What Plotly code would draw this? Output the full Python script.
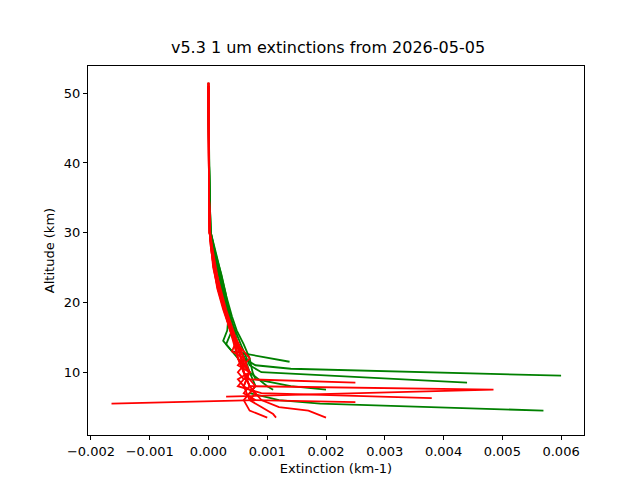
import plotly.graph_objects as go

# altitude (km) / extinction (km-1) profiles
green_alts = [
    [51.5, 45, 40, 35, 30, 27, 24, 21, 18, 16, 14, 12, 11, 10.5, 9.5],
    [51.0, 45, 40, 35, 30, 27, 24, 21, 18, 16, 14, 12, 11, 10, 8.5],
    [50.0, 45, 40, 35, 30, 27, 24, 21, 18, 16, 14, 12, 10, 8, 7, 6, 5.5, 4.5],
    [48.0, 40, 34.5, 30, 27, 24, 21, 18, 16, 14.5, 13, 11.5],
    [51.0, 45, 40, 35, 30, 27, 24, 21, 18, 16, 14, 12, 10, 9, 8, 7.5],
    [49.0, 40, 35, 30, 27, 24, 21, 18, 16, 14, 12, 10, 8, 7.5],
]
green_exts = [
    [0.0, 0.0, 0.00001, 0.00002, 0.00003, 0.00009, 0.00017, 0.00025, 0.00033, 0.00042, 0.0005, 0.0006, 0.0008, 0.0014, 0.0060],
    [0.0, 0.0, 0.00001, 0.00002, 0.00003, 0.0001, 0.00018, 0.00027, 0.00036, 0.00045, 0.00055, 0.00065, 0.0007, 0.0009, 0.0044],
    [0.0, 0.0, 0.00001, 0.00002, 0.00004, 0.00011, 0.0002, 0.00029, 0.00037, 0.00044, 0.0005, 0.00062, 0.0007, 0.0008, 0.0007, 0.0012, 0.0019, 0.0057],
    [0.0, 0.00001, 0.00002, 0.00004, 0.00012, 0.00022, 0.0003, 0.00034, 0.00032, 0.00025, 0.0004, 0.00138],
    [0.0, 0.0, 0.00001, 0.00002, 0.00004, 0.00013, 0.00021, 0.0003, 0.0004, 0.00048, 0.0006, 0.0007, 0.00075, 0.0008, 0.0014, 0.0020],
    [0.0, 0.00001, 0.00002, 0.00003, 0.0001, 0.00019, 0.00028, 0.00035, 0.0004, 0.0003, 0.0005, 0.0007, 0.001, 0.0011],
]
red_alts = [
    [51.5, 45, 40, 35, 30, 28, 25, 22, 19, 16, 14, 12, 10, 8, 7, 6, 5.5],
    [51.5, 45, 40, 35, 30, 28, 25, 22, 19, 16, 14, 12, 10, 8, 7.5, 6.5],
    [51.0, 45, 40, 35, 30, 28, 25, 22, 19, 16, 14, 12, 10, 9, 8.5],
    [51.0, 45, 40, 35, 30, 28, 25, 22, 19, 16, 14, 12, 10, 8, 7, 6.3],
    [51.5, 45, 40, 35, 30, 28, 25, 22, 19, 16, 14, 12, 10, 8, 6, 5, 4.5, 3.5],
    [51.0, 45, 40, 35, 30, 28, 25, 22, 19, 16, 14, 12, 10, 8, 6, 5, 4, 3.5],
    [50.5, 45, 40, 35, 30, 28, 25, 22, 19, 16, 14, 12, 10, 8, 6, 4.5, 3.5],
    [51.0, 45, 40, 35, 30, 28, 25, 22, 19, 16, 14, 12, 10, 8, 7, 6, 5.7],
    [51.5, 45, 40, 35, 30, 28, 25, 22, 19, 16, 14, 13, 12, 11, 10, 9, 8],
]
red_exts = [
    [0.0, 0.0, 0.0, 0.00001, 0.00002, 0.00005, 0.0001, 0.00018, 0.00028, 0.0004, 0.0005, 0.0006, 0.0006, 0.0007, 0.0006, 0.0008, -0.00165],
    [0.0, 0.0, 0.0, 0.00001, 0.00002, 0.00004, 0.00009, 0.00016, 0.00026, 0.00038, 0.00048, 0.00055, 0.0006, 0.0007, 0.00485, 0.0003],
    [0.0, 0.0, 0.0, 0.00001, 0.00002, 0.00005, 0.00011, 0.0002, 0.0003, 0.00042, 0.0005, 0.0007, 0.0005, 0.0006, 0.0025],
    [0.0, 0.0, 0.0, 0.00001, 0.00002, 0.00006, 0.00012, 0.00019, 0.00029, 0.0004, 0.00052, 0.0006, 0.0007, 0.0005, 0.0009, 0.0038],
    [0.0, 0.0, 0.0, 0.00001, 0.00003, 0.00006, 0.0001, 0.00017, 0.00027, 0.00039, 0.00047, 0.0005, 0.0006, 0.0007, 0.0009, 0.0012, 0.0017, 0.0020],
    [0.0, 0.0, 0.0, 0.00001, 0.00002, 0.00004, 0.00009, 0.00015, 0.00025, 0.00037, 0.00045, 0.0005, 0.0007, 0.0006, 0.0007, 0.0009, 0.0011, 0.00115],
    [0.0, 0.0, 0.0, 0.00001, 0.00002, 0.00005, 0.0001, 0.00017, 0.00027, 0.00036, 0.00043, 0.0005, 0.0006, 0.0008, 0.0006, 0.0007, 0.0010],
    [0.0, 0.0, 0.0, 0.00001, 0.00002, 0.00005, 0.0001, 0.00019, 0.00028, 0.00041, 0.0005, 0.00055, 0.0007, 0.0006, 0.0008, 0.0007, 0.0025],
    [0.0, 0.0, 0.0, 0.00001, 0.00002, 0.00004, 0.00008, 0.00016, 0.00026, 0.00037, 0.00045, 0.0004, 0.0006, 0.0005, 0.0007, 0.0005, 0.0006],
]

fig = go.Figure()
for alts, exts in zip(green_alts, green_exts):
    fig.add_trace(go.Scatter(x=exts, y=alts, mode="lines", line=dict(color="green", width=1.8)))
for alts, exts in zip(red_alts, red_exts):
    fig.add_trace(go.Scatter(x=exts, y=alts, mode="lines", line=dict(color="red", width=1.8)))

axis_style = dict(showline=True, linecolor="black", mirror=True, ticks="outside",
                  ticklen=4, tickcolor="black", showgrid=False, zeroline=False,
                  automargin=False, tickfont=dict(size=13))
fig.update_layout(
    width=640, height=480, showlegend=False,
    plot_bgcolor="white", paper_bgcolor="white",
    font=dict(family="DejaVu Sans", size=13, color="black"),
    title=dict(text="v5.3 1 um extinctions from 2026-05-05", x=0.5, xanchor="center",
               y=0.93, font=dict(size=16)),
    margin=dict(l=80, r=64, t=58, b=53),
    xaxis=dict(title=dict(text="Extinction (km-1)", standoff=6, font=dict(size=13)),
               range=[-0.00205, 0.00639], dtick=0.001, tickformat=".3f", **axis_style),
    yaxis=dict(title=dict(text="Altitude (km)", standoff=6, font=dict(size=13)),
               range=[1.0, 53.9], tickvals=[10, 20, 30, 40, 50], **axis_style),
)
fig.write_html("out.html")
